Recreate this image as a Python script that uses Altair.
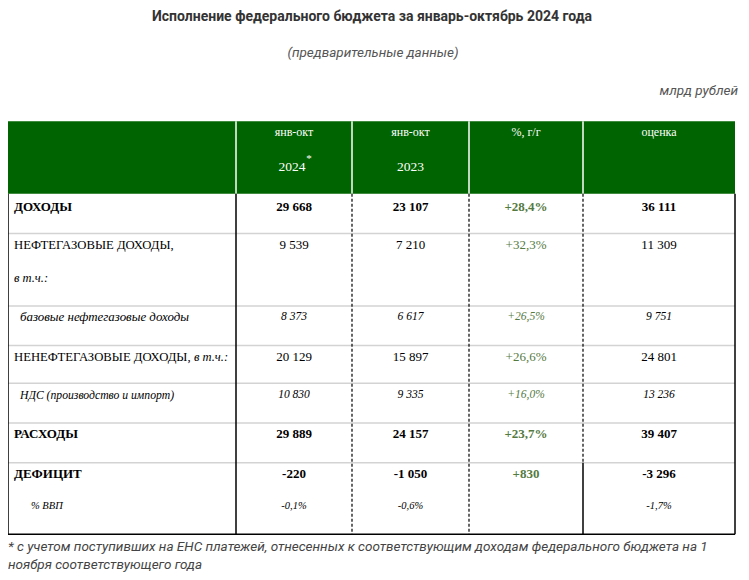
import altair as alt
import pandas as pd

# ---------------- data ----------------
title = "Исполнение федерального бюджета за январь-октябрь 2024 года"
subtitle = "(предварительные данные)"
unit = "млрд рублей"
col_heads_top = ["янв-окт", "янв-окт", "%, г/г", "оценка"]
col_heads_bottom = ["2024", "2023", "", ""]
row_labels = [
    "ДОХОДЫ",
    "НЕФТЕГАЗОВЫЕ ДОХОДЫ,",
    "базовые нефтегазовые доходы",
    "НЕНЕФТЕГАЗОВЫЕ ДОХОДЫ,",
    "НДС (производство и импорт)",
    "РАСХОДЫ",
    "ДЕФИЦИТ",
    "% ВВП",
]
label_notes = ["", "в т.ч.:", "", "в т.ч.:", "", "", "", ""]
jan_oct_2024 = ["29 668", "9 539", "8 373", "20 129", "10 830", "29 889", "-220", "-0,1%"]
jan_oct_2023 = ["23 107", "7 210", "6 617", "15 897", "9 335", "24 157", "-1 050", "-0,6%"]
yoy_change = ["+28,4%", "+32,3%", "+26,5%", "+26,6%", "+16,0%", "+23,7%", "+830", ""]
estimate = ["36 111", "11 309", "9 751", "24 801", "13 236", "39 407", "-3 296", "-1,7%"]
row_styles = ["bold", "regular", "italic", "regular", "italic", "bold", "bold", "small"]
footnote = [
    "* с учетом поступивших на ЕНС платежей, отнесенных к соответствующим доходам федерального бюджета на 1",
    "ноября соответствующего года",
]

# ---------------- layout (reference page pixels) ----------------
W, H = 733, 564
col_edges = [5, 233, 349, 466, 580, 732]
col_centers = [(a + b) / 2 for a, b in zip(col_edges[1:-1], col_edges[2:])]
header_top, header_bottom = 120, 193
table_bottom = 536
row_text_y = [206, 245, 317, 357, 396, 435, 475, 508]
row_lines_y = [233, 306, 346, 384, 424, 464]
label_x = {"bold": 11, "regular": 11, "italic": 17, "small": 28}
label_size = [13, 12.7, 12.9, 12.7, 11.7, 13, 13, 10.5]
note_pos = {1: (11, 278), 3: (191, 357)}

SERIF = "Liberation Serif"
SANS = "Roboto"
GREEN = "#006400"
PCT = "#557a3f"

xs = alt.Scale(domain=[5, 5 + W], range=[0, W], nice=False, zero=False)
ys = alt.Scale(domain=[6, 574], range=[0, H], nice=False, zero=False)


def text_layer(rows, **mark):
    df = pd.DataFrame(rows, columns=["x", "y", "t"])
    return alt.Chart(df).mark_text(baseline="middle", **mark).encode(
        x=alt.X("x:Q", scale=xs, axis=None),
        y=alt.Y("y:Q", scale=ys, axis=None),
        text="t:N",
    )


def rule_layer(rows, **mark):
    df = pd.DataFrame(rows, columns=["x", "x2", "y", "y2"])
    return alt.Chart(df).mark_rule(**mark).encode(
        x=alt.X("x:Q", scale=xs, axis=None),
        x2="x2:Q",
        y=alt.Y("y:Q", scale=ys, axis=None),
        y2="y2:Q",
    )


layers = []

# header background
hdr = pd.DataFrame([[col_edges[0], col_edges[-1], header_top, header_bottom]], columns=["x", "x2", "y", "y2"])
layers.append(
    alt.Chart(hdr).mark_rect(color=GREEN).encode(
        x=alt.X("x:Q", scale=xs, axis=None), x2="x2:Q",
        y=alt.Y("y:Q", scale=ys, axis=None), y2="y2:Q",
    )
)
# header white dividers
layers.append(rule_layer([[x, x, header_top, header_bottom] for x in col_edges[1:-1]], color="white", strokeWidth=1.5))

# gray row lines
layers.append(rule_layer([[col_edges[0], col_edges[-1], y, y] for y in row_lines_y], color="#d3d3d3", strokeWidth=1.5))

# vertical borders
solid = [
    [col_edges[0], col_edges[0], header_bottom, table_bottom],
    [col_edges[1], col_edges[1], header_bottom, table_bottom],
    [col_edges[4], col_edges[4], row_lines_y[-1], table_bottom],
    [col_edges[5], col_edges[5], header_bottom, table_bottom],
    [col_edges[0], col_edges[5], table_bottom, table_bottom],
]
layers.append(rule_layer(solid, color="black", strokeWidth=1.5))
dashed = [
    [col_edges[2], col_edges[2], header_bottom, table_bottom],
    [col_edges[3], col_edges[3], header_bottom, table_bottom],
    [col_edges[4], col_edges[4], header_bottom, row_lines_y[-1]],
]
layers.append(rule_layer(dashed, color="black", strokeWidth=1.2, strokeDash=[3, 2]))

# header texts
layers.append(text_layer([[c, 131, t] for c, t in zip(col_centers, col_heads_top)],
                         font=SERIF, fontSize=12, color="white", align="center"))
hb = [[c - (2 if i == 0 else 0), 166, t] for i, (c, t) in enumerate(zip(col_centers, col_heads_bottom)) if t]
layers.append(text_layer(hb, font=SERIF, fontSize=13.5, color="white", align="center"))
layers.append(text_layer([[306, 158, "*"]], font=SERIF, fontSize=11, color="white", align="center"))

# table body text by style
style_marks = {
    "bold": dict(fontSize=13, fontWeight="bold"),
    "regular": dict(fontSize=13),
    "italic": dict(fontSize=11.5, fontStyle="italic"),
    "small": dict(fontSize=10.5, fontStyle="italic"),
}
for i, lab in enumerate(row_labels):
    mk = dict(style_marks[row_styles[i]])
    mk["fontSize"] = label_size[i]
    layers.append(text_layer([[label_x[row_styles[i]], row_text_y[i], lab]], font=SERIF, color="black",
                             align="left", **mk))
for st, mk in style_marks.items():
    idx = [i for i, s in enumerate(row_styles) if s == st]
    nums = []
    for i in idx:
        for c, vals in zip([col_centers[0], col_centers[1], col_centers[3]], [jan_oct_2024, jan_oct_2023, estimate]):
            if vals[i]:
                nums.append([c, row_text_y[i], vals[i]])
    pcts = [[col_centers[2], row_text_y[i], yoy_change[i]] for i in idx if yoy_change[i]]
    layers.append(text_layer(nums, font=SERIF, color="black", align="center", **mk))
    if pcts:
        layers.append(text_layer(pcts, font=SERIF, color=PCT, align="center", **mk))

# "в т.ч.:" notes
notes = [[note_pos[i][0], note_pos[i][1], label_notes[i]] for i in note_pos]
layers.append(text_layer(notes, font=SERIF, fontSize=12.5, fontStyle="italic", color="black", align="left"))

# titles
layers.append(text_layer([[369, 15, title]], font=SANS, fontSize=14, fontWeight="bold", color="#333333", align="center"))
layers.append(text_layer([[370, 51, subtitle]], font=SANS, fontSize=13.5, fontStyle="italic", color="#555555", align="center"))
layers.append(text_layer([[735, 90, unit]], font=SANS, fontSize=13.5, fontStyle="italic", color="#555555", align="right"))
layers.append(text_layer([[5, 549, footnote[0]], [5, 567, footnote[1]]], font=SANS, fontSize=13.5,
                         fontStyle="italic", color="#444444", align="left"))

chart = (
    alt.layer(*layers)
    .properties(width=W, height=H, padding=0, autosize="none", background="white")
    .configure_view(stroke=None)
)

chart.save("out.html", embed_options={"renderer": "svg", "actions": False})
